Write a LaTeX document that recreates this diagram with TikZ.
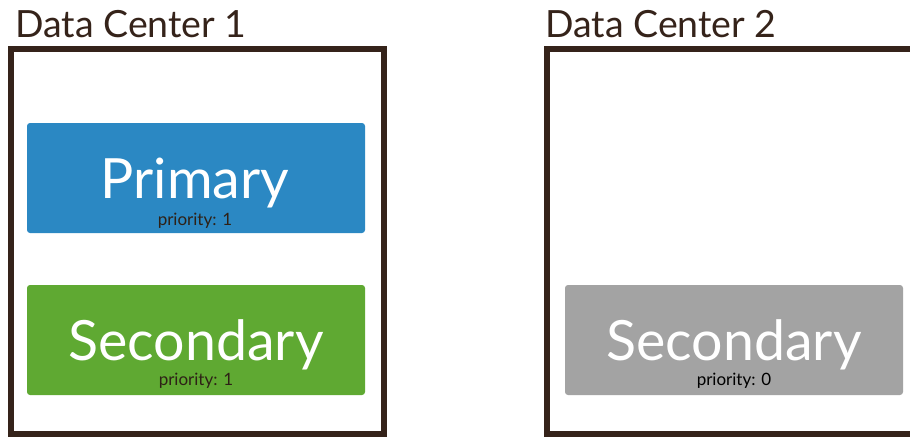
\documentclass[tikz,border=0pt]{standalone}
\usepackage{fontspec}
\setmainfont{Lato}
\usetikzlibrary{positioning}
\definecolor{dcframe}{HTML}{35231A}
\definecolor{primblue}{HTML}{2B88C3}
\definecolor{secgreen}{HTML}{5FA932}
\definecolor{secgray}{HTML}{A3A3A3}
\definecolor{priotext}{HTML}{2E2116}

\begin{document}
\begin{tikzpicture}[x=1pt, y=-1pt,
    dcbox/.style={draw=dcframe, line width=6pt},
    dctitle/.style={anchor=base west, inner sep=0pt, text=dcframe, font=\fontsize{37.5}{42}\selectfont},
    rsbox/.style={rectangle, rounded corners=3pt, minimum width=338pt, minimum height=110pt, inner sep=0pt},
    rslabel/.style={anchor=base, inner sep=0pt, text=white, font=\fontsize{55.5}{60}\selectfont},
    prio/.style={anchor=base, inner sep=0pt, text=priotext, font=\fontsize{17}{20}\selectfont}]
    \clip (0,0) rectangle (910,437);

    % data centers
    \node[dctitle] (dc1title) at (15,37) {Data Center 1};
    \node[dctitle] (dc2title) at (545,37) {Data Center 2};
    \draw[dcbox] (11,48.5) rectangle (384,434);
    \draw[dcbox] (547,48.5) rectangle (920,434);

    % members
    \node[rsbox, fill=primblue] (primary) at (196,178) {};
    \node[rsbox, fill=secgreen] (second1) at (196,340) {};
    \node[rsbox, fill=secgray] (second2) at (734,340) {};

    \node[rslabel] (primlabel) at (195,198) {Primary};
    \node[prio] (primprio) at (195,225) {priority: 1};
    \node[rslabel] (sec1label) at (196,360) {Secondary};
    \node[prio] (sec1prio) at (196,385) {priority: 1};
    \node[rslabel] (sec2label) at (734,360) {Secondary};
    \node[prio, text=black] (sec2prio) at (734,385) {priority: 0};
\end{tikzpicture}
\end{document}
